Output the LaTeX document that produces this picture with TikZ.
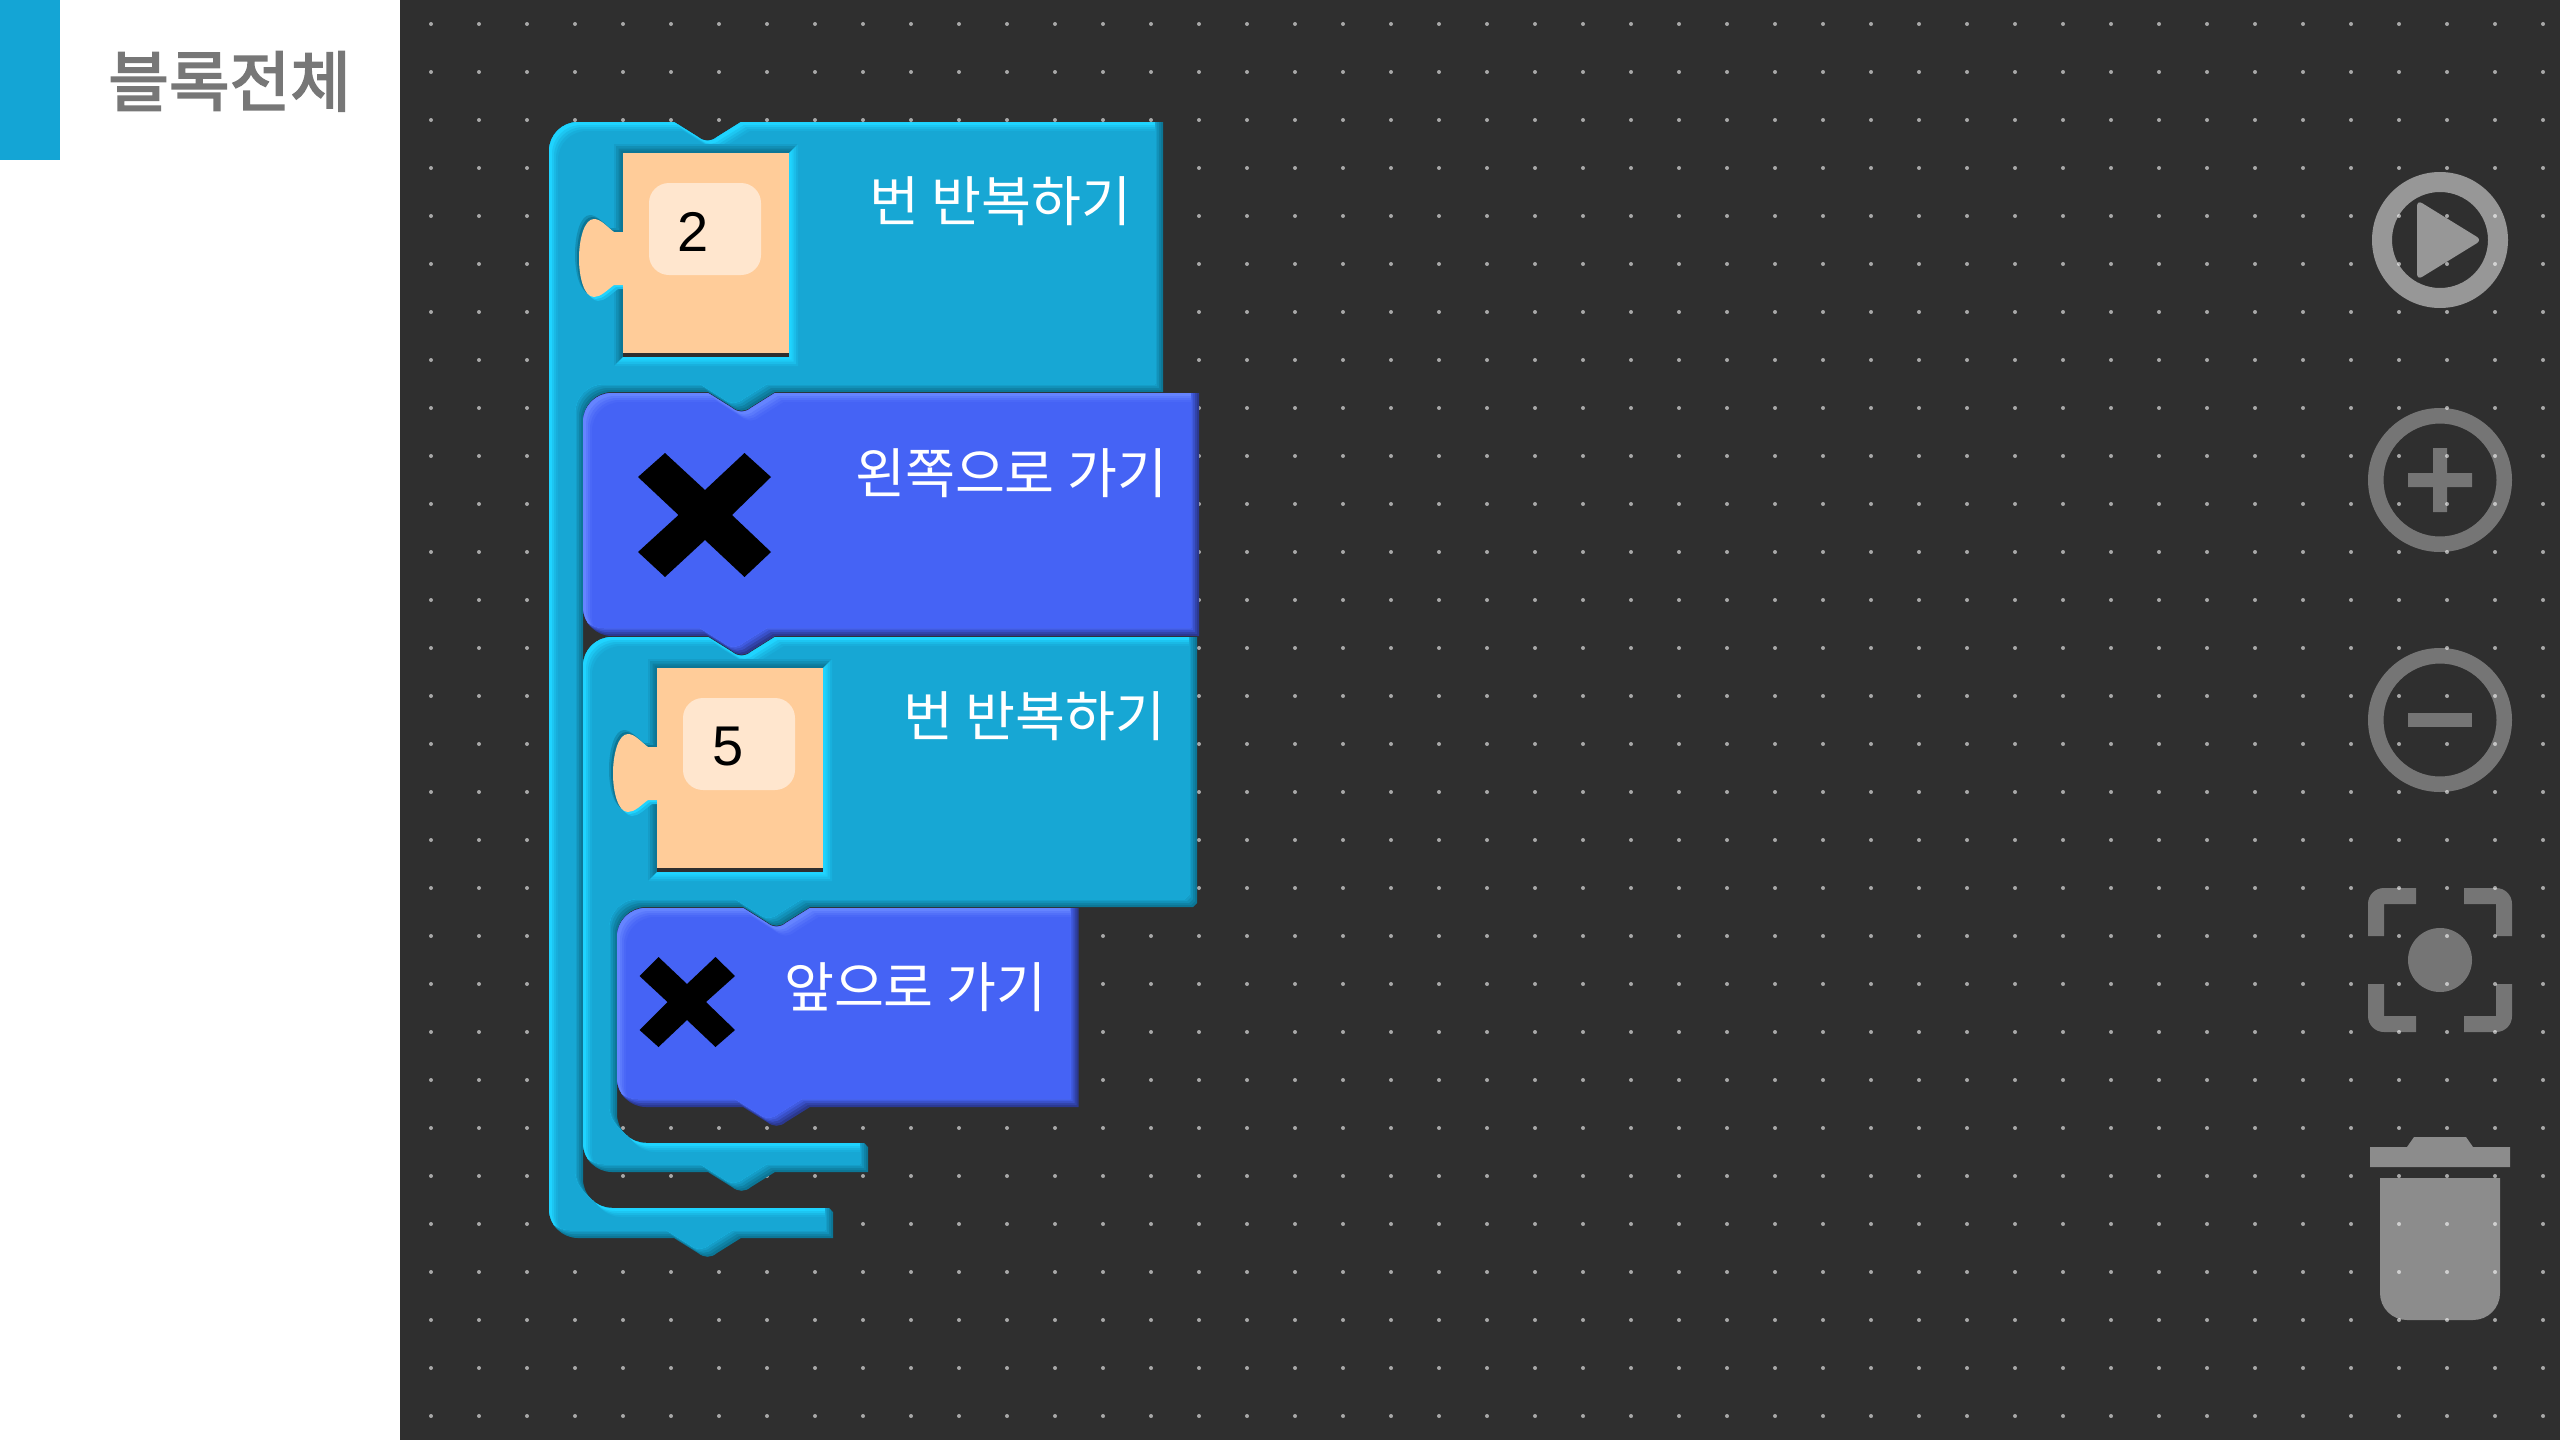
\documentclass[tikz,border=0pt]{standalone}
\usepackage{fontspec}
\setmainfont{Noto Sans CJK KR}
\newfontfamily\numfont{Liberation Sans}
\newfontfamily\headfont[FakeBold=2.6]{Noto Sans CJK KR}
\definecolor{bgdark}{HTML}{2F2F2F}
\definecolor{dotc}{HTML}{A8A8A8}
\definecolor{side}{HTML}{14A5D5}
\definecolor{cybase}{HTML}{17A7D4}
\definecolor{cyhi}{HTML}{1FD4FF}
\definecolor{cylo}{HTML}{0C7696}
\definecolor{blbase}{HTML}{4563F5}
\definecolor{blhi}{HTML}{6584FF}
\definecolor{bllo}{HTML}{2B3890}
\definecolor{peach}{HTML}{FFCC99}
\definecolor{peachbox}{HTML}{FFE6CE}
\definecolor{headgray}{HTML}{777777}
\def\tabLR#1#2{-- (#1,#2) -- ({#1+24},{#2+15}) .. controls ({#1+30},{#2+20}) and ({#1+37},{#2+20}) .. ({#1+43},{#2+15}) -- ({#1+67},#2)}
\def\tabRL#1#2{-- ({#1+67},#2) -- ({#1+43},{#2+15}) .. controls ({#1+37},{#2+20}) and ({#1+30},{#2+20}) .. ({#1+24},{#2+15}) -- (#1,#2)}
\def\pathA{(578,122) \tabLR{674}{122} -- (1163,122) -- (1163,392) \tabRL{708}{392} -- (612,392) .. controls (596,392) and (583,405) .. (583,421) -- (583,1179) .. controls (583,1195) and (596,1208) .. (612,1208) -- (829,1208) -- (833,1212) -- (833,1238) \tabRL{674}{1238} -- (578,1238) .. controls (562,1238) and (549,1225) .. (549,1209) -- (549,151) .. controls (549,135) and (562,122) .. (578,122) -- cycle}
\def\pathB{(612,393) \tabLR{708}{393} -- (1199,393) -- (1199,636) \tabRL{708}{636} -- (612,636) .. controls (596,636) and (583,623) .. (583,607) -- (583,422) .. controls (583,406) and (596,393) .. (612,393) -- cycle}
\def\pathC{(612,637) \tabLR{708}{637} -- (1197,637) -- (1197,903) -- (1193,907) \tabRL{743}{907} -- (646,907) .. controls (630,907) and (617,920) .. (617,936) -- (617,1114) .. controls (617,1130) and (630,1143) .. (646,1143) -- (864,1143) -- (868,1147) -- (868,1172) \tabRL{708}{1172} -- (612,1172) .. controls (596,1172) and (583,1159) .. (583,1143) -- (583,666) .. controls (583,650) and (596,637) .. (612,637) -- cycle}
\def\pathD{(646,908) \tabLR{743}{908} -- (1078.5,908) -- (1078.5,1107) \tabRL{743}{1107} -- (646,1107) .. controls (630,1107) and (617,1094) .. (617,1078) -- (617,937) .. controls (617,921) and (630,908) .. (646,908) -- cycle}
\def\pathT{(0,132) -- (-9,132) .. controls (-16,137) and (-22,144) .. (-29,144) .. controls (-39,144) and (-44,124) .. (-44,105.5) .. controls (-44,87) and (-39,66) .. (-29,66) .. controls (-22,66) and (-16,74) .. (-9,79) -- (0,79) -- cycle}
\newcommand\paintall[1]{\fill[#1] (0,0) rectangle (2560,1440);}
\newcommand\bevelshape[4]{%
\begin{scope}
\clip \csname #1\endcsname; \paintall{#4}
\clip[shift={(-2,-2)}] \csname #1\endcsname; \paintall{#4!75!#2}
\clip[shift={(-4,-4)}] \csname #1\endcsname; \paintall{#4!45!#2}
\clip[shift={(-6,-6)}] \csname #1\endcsname; \paintall{#4!20!#2}
\clip[shift={(-8,-8)}] \csname #1\endcsname; \paintall{#3}
\clip[shift={(3,3)}] \csname #1\endcsname; \paintall{#3!70!#2}
\clip[shift={(5,5)}] \csname #1\endcsname; \paintall{#3!40!#2}
\clip[shift={(7,7)}] \csname #1\endcsname; \paintall{#3!15!#2}
\clip[shift={(9,9)}] \csname #1\endcsname; \paintall{#2}
\end{scope}}
% mitred recess round the 166 x 204 socket: e = width, #2 = shaded side, #3 = lit side
\newcommand\recess[3]{%
\fill[#2] ({-#1},{-#1}) -- ({166+#1},{-#1}) -- (166,0) -- (0,0) -- (0,204) -- ({-#1},{204+#1}) -- cycle;
\fill[#3] ({166+#1},{-#1}) -- ({166+#1},{204+#1}) -- ({-#1},{204+#1}) -- (0,204) -- (166,204) -- (166,0) -- cycle;}
\newcommand\peachpiece[3]{%
\begin{scope}[shift={(#1,#2)}]
\recess{9}{cylo!20!cybase}{cyhi!20!cybase}
\recess{7}{cylo!50!cybase}{cyhi!50!cybase}
\recess{4.5}{cylo!80!cybase}{cyhi!80!cybase}
\recess{2.5}{cylo}{cyhi}
\fill[cylo!50!cybase,shift={(-4,-4)}] \pathT;
\fill[cylo,shift={(-2,-2)}] \pathT;
\fill[cyhi!50!cybase,shift={(4,4)}] \pathT;
\fill[cyhi,shift={(2,2)}] \pathT;
\fill[peach] (0,0) rectangle (166,204);
\fill[peach] \pathT;
\fill[bgdark] (0,200) rectangle (166,204);
\fill[peachbox,rounded corners=20pt] (26,30) rectangle (138,#3);
\end{scope}}
\newcommand\bigcross[1]{\fill[black] #1;}
\tikzset{
 blocktext/.style={anchor=base east,inner sep=0pt,outer sep=0pt,text=white,font=\fontsize{54.3}{55}\selectfont},
 numtext/.style={anchor=center,inner sep=0pt,outer sep=0pt,text=black,font=\numfont\fontsize{56}{56}\selectfont},
 ringicon/.style={fill=white,even odd rule},
}
\begin{document}
\begin{tikzpicture}[x=1pt,y=-1pt]
\useasboundingbox (0,0) rectangle (2560,1440);
\fill[white] (0,0) rectangle (400,1440);
\fill[bgdark] (400,0) rectangle (2560,1440);
\fill[side] (0,0) rectangle (60,160);
\node[anchor=base west,inner sep=0pt,text=headgray,font=\headfont\fontsize{66}{66}\selectfont] (title) at (108,106) {블록전체};
\foreach \i in {0,...,44}{\foreach \j in {0,...,29}{\fill[dotc] ({431+48*\i},{24+48*\j}) circle (2);}}
% blocks
\bevelshape{pathA}{cybase}{cyhi}{cylo}
\peachpiece{623}{153}{122}
\bevelshape{pathB}{blbase}{blhi}{bllo}
\bevelshape{pathC}{cybase}{cyhi}{cylo}
\peachpiece{657}{668}{122}
\bevelshape{pathD}{blbase}{blhi}{bllo}
% crosses
\bigcross{(665,453) -- (638,477) -- (678.5,515) -- (638,552) -- (665,577) -- (705,540) -- (744.5,577) -- (771,552) -- (732,515) -- (771,477) -- (744.5,453) -- (705,490) -- cycle}
\bigcross{(658.5,957) -- (639.5,976) -- (667.5,1002) -- (639.5,1030) -- (658.5,1047) -- (687,1020) -- (715.5,1047) -- (735,1030) -- (706,1002) -- (735,976) -- (715.5,957) -- (687,984) -- cycle}
% texts
\node[numtext] (numtwo) at (693,232) {2};
\node[numtext] (numfive) at (728,747) {5};
\node[blocktext] (labela) at (1131,221) {번 반복하기};
\node[blocktext] (labelb) at (1167,493) {왼쪽으로 가기};
\node[blocktext] (labelc) at (1165,736) {번 반복하기};
\node[blocktext] (labeld) at (1046,1007) {앞으로 가기};
% icons
\fill[ringicon,opacity=.5] (2440,240) circle (68) (2440,240) circle (48);
\fill[white,opacity=.5,rounded corners=6pt] (2417,200) -- (2482,240) -- (2417,280) -- cycle;
\fill[ringicon,opacity=.34] (2440,480) circle (72) (2440,480) circle (56.5);
\fill[white,opacity=.34] (2408,473) -- (2433,473) -- (2433,448) -- (2447,448) -- (2447,473) -- (2472,473) -- (2472,487) -- (2447,487) -- (2447,512) -- (2433,512) -- (2433,487) -- (2408,487) -- cycle;
\fill[ringicon,opacity=.34] (2440,720) circle (72) (2440,720) circle (56.5);
\fill[white,opacity=.34] (2408,713) rectangle (2472,727);
\begin{scope}[opacity=.34]
\fill[white] (2368,936) -- (2368,904) .. controls (2368,895) and (2375,888) .. (2384,888) -- (2416,888) -- (2416,904) -- (2384,904) -- (2384,936) -- cycle;
\fill[white] (2512,936) -- (2512,904) .. controls (2512,895) and (2505,888) .. (2496,888) -- (2464,888) -- (2464,904) -- (2496,904) -- (2496,936) -- cycle;
\fill[white] (2368,984) -- (2368,1016) .. controls (2368,1025) and (2375,1032) .. (2384,1032) -- (2416,1032) -- (2416,1016) -- (2384,1016) -- (2384,984) -- cycle;
\fill[white] (2512,984) -- (2512,1016) .. controls (2512,1025) and (2505,1032) .. (2496,1032) -- (2464,1032) -- (2464,1016) -- (2496,1016) -- (2496,984) -- cycle;
\fill[white] (2440,960) circle (32);
\end{scope}
\begin{scope}[opacity=.45]
\fill[white] (2370,1147) -- (2407,1147) -- (2414,1137) -- (2466,1137) -- (2473,1147) -- (2510,1147) -- (2510,1167) -- (2370,1167) -- cycle;
\fill[white] (2380,1178) -- (2500,1178) -- (2500,1293) .. controls (2500,1308) and (2488,1320) .. (2473,1320) -- (2407,1320) .. controls (2392,1320) and (2380,1308) .. (2380,1293) -- cycle;
\end{scope}
\end{tikzpicture}
\end{document}
